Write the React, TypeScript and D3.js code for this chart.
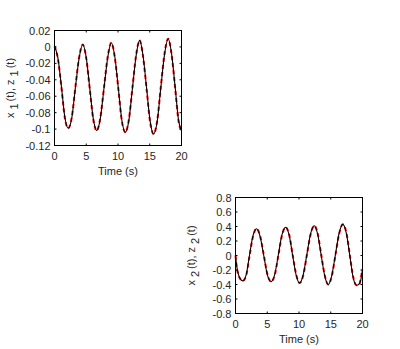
import * as d3 from "d3";

// panel 1: x1(t) black solid, z1(t) red dashed
const t1 = [0, 0.55, 1.1, 1.62, 2.17, 2.73, 3.3, 3.87, 4.45, 5.0, 5.55, 6.1, 6.65, 7.2, 7.8, 8.38, 8.95, 9.5, 10.05, 10.6, 11.15, 11.7, 12.28, 12.85, 13.4, 13.95, 14.5, 15.05, 15.6, 16.17, 16.75, 17.33, 17.9, 18.45, 19.0, 19.55, 20];
const x1 = [0.001, -0.014, -0.049, -0.085, -0.099, -0.086, -0.049, -0.014, 0.003, -0.013, -0.050, -0.087, -0.102, -0.088, -0.050, -0.013, 0.005, -0.012, -0.050, -0.089, -0.104, -0.090, -0.050, -0.011, 0.008, -0.011, -0.050, -0.090, -0.106, -0.091, -0.049, -0.009, 0.010, -0.009, -0.049, -0.090, -0.102];
const z1 = [0.001, -0.015, -0.050, -0.086, -0.099, -0.085, -0.048, -0.013, 0.003, -0.014, -0.051, -0.088, -0.102, -0.087, -0.049, -0.012, 0.005, -0.013, -0.051, -0.090, -0.104, -0.089, -0.049, -0.010, 0.008, -0.012, -0.051, -0.091, -0.106, -0.090, -0.048, -0.008, 0.010, -0.010, -0.050, -0.091, -0.102];

// panel 2: x2(t) black solid, z2(t) red dashed
const t2 = [0, 0.15, 0.5, 0.8, 1.15, 1.7, 2.2, 2.75, 3.3, 3.85, 4.45, 5.0, 5.6, 6.15, 6.75, 7.3, 7.9, 8.45, 9.0, 9.55, 10.1, 10.65, 11.25, 11.8, 12.4, 12.95, 13.5, 14.05, 14.6, 15.15, 15.75, 16.3, 16.9, 17.45, 18.0, 18.5, 19.05, 19.5, 19.75, 20];
const x2 = [0.0, -0.12, -0.27, -0.33, -0.35, -0.26, 0.0, 0.27, 0.37, 0.27, 0.0, -0.26, -0.36, -0.27, 0.01, 0.28, 0.39, 0.28, 0.0, -0.27, -0.38, -0.27, 0.02, 0.29, 0.41, 0.29, 0.0, -0.28, -0.40, -0.28, 0.02, 0.30, 0.43, 0.31, 0.0, -0.29, -0.41, -0.39, -0.33, -0.18];
const z2 = [0.0, -0.13, -0.28, -0.33, -0.35, -0.27, -0.01, 0.26, 0.37, 0.28, 0.01, -0.25, -0.36, -0.28, 0.0, 0.27, 0.39, 0.29, 0.01, -0.26, -0.38, -0.28, 0.01, 0.28, 0.41, 0.30, 0.01, -0.27, -0.40, -0.29, 0.01, 0.29, 0.43, 0.32, 0.01, -0.28, -0.41, -0.40, -0.30, -0.20];

const xTicks = [0, 5, 10, 15, 20];
const yTicks1 = [0.02, 0, -0.02, -0.04, -0.06, -0.08, -0.1, -0.12];
const yTicks2 = [0.8, 0.6, 0.4, 0.2, 0, -0.2, -0.4, -0.6, -0.8];

const FONT = "'Liberation Sans', Arial, sans-serif";
const TXT = "#262626";

type PanelProps = {
  left: number; right: number; top: number; bottom: number;
  t: number[]; xs: number[]; zs: number[];
  yDomain: [number, number]; yTicks: number[]; sub: string;
};

function Panel({ left, right, top, bottom, t, xs, zs, yDomain, yTicks, sub }: PanelProps) {
  const xScale = d3.scaleLinear().domain([0, 20]).range([left, right]);
  const yScale = d3.scaleLinear().domain(yDomain).range([bottom, top]);
  const line = (vals: number[]) =>
    d3.line<number>()
      .x((_, i) => xScale(t[i]))
      .y((d) => yScale(d))
      .curve(d3.curveMonotoneX)(vals) || "";
  const tl = 2;
  const fmt = (v: number) => String(+v.toFixed(2));
  const midY = (top + bottom) / 2;
  return (
    <g>
      <rect x={left} y={top} width={right - left} height={bottom - top} fill="#fff" />
      <path d={line(zs)} fill="none" stroke="#ff0000" strokeWidth={2} strokeDasharray="4,3" />
      <path d={line(xs)} fill="none" stroke="#000" strokeWidth={1.1} />
      <rect x={left} y={top} width={right - left} height={bottom - top} fill="none" stroke="#000" strokeWidth={1} />
      {xTicks.map((v) => (
        <g key={"x" + v}>
          <line x1={xScale(v)} x2={xScale(v)} y1={bottom} y2={bottom - tl} stroke="#000" />
          <line x1={xScale(v)} x2={xScale(v)} y1={top} y2={top + tl} stroke="#000" />
          <text x={xScale(v)} y={bottom + 14.5} textAnchor="middle" fontSize={11} fontFamily={FONT} fill={TXT}>{v}</text>
        </g>
      ))}
      {yTicks.map((v) => (
        <g key={"y" + v}>
          <line x1={left} x2={left + tl} y1={yScale(v)} y2={yScale(v)} stroke="#000" />
          <line x1={right} x2={right - tl} y1={yScale(v)} y2={yScale(v)} stroke="#000" />
          <text x={left - 4} y={yScale(v) + 4} textAnchor="end" fontSize={11} fontFamily={FONT} fill={TXT}>{fmt(v)}</text>
        </g>
      ))}
      <text x={(left + right) / 2} y={bottom + 29.5} textAnchor="middle" fontSize={11} fontFamily={FONT} fill={TXT}>Time (s)</text>
      <text transform={`translate(${left - 41},${midY}) rotate(-90)`} textAnchor="middle" fontSize={11} fontFamily={FONT} fill={TXT}>
        <tspan>x</tspan>
        <tspan dx={3} dy={4}>{sub}</tspan>
        <tspan dx={2} dy={-4}>(t), z</tspan>
        <tspan dx={3} dy={4}>{sub}</tspan>
        <tspan dx={2} dy={-4}>(t)</tspan>
      </text>
    </g>
  );
}

export default function App() {
  return (
    <svg width={400} height={349} style={{ position: "absolute", left: 0, top: 0, background: "#fff" }}>
      <rect width={400} height={349} fill="#fff" />
      <Panel left={54.5} right={181.5} top={30.5} bottom={145.5} t={t1} xs={x1} zs={z1} yDomain={[-0.12, 0.02]} yTicks={yTicks1} sub="1" />
      <Panel left={235.5} right={362.5} top={197.5} bottom={313.5} t={t2} xs={x2} zs={z2} yDomain={[-0.8, 0.8]} yTicks={yTicks2} sub="2" />
    </svg>
  );
}
